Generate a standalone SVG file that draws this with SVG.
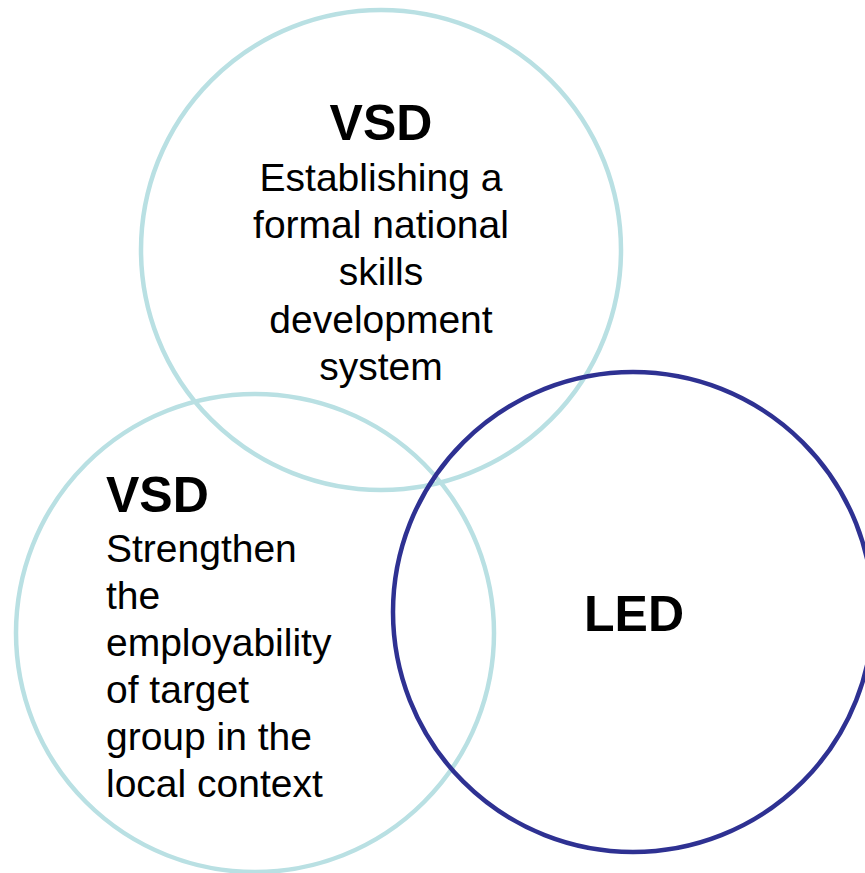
<svg xmlns="http://www.w3.org/2000/svg" width="865" height="873" viewBox="0 0 865 873">
<style>
.c{fill:none;stroke-width:4.5}
.lt{stroke:#b9e0e3}
.dk{stroke:#2e3192}
.h{font-family:"Liberation Sans",Arial,sans-serif;font-weight:bold;font-size:50px;fill:#000}
.t{font-family:"Liberation Sans",Arial,sans-serif;font-size:39px;fill:#000}
</style>
<rect width="865" height="873" fill="#fff"/>
<g id="top">
<circle class="c lt" cx="381" cy="250" r="240"/>
<text class="h" x="381" y="140" text-anchor="middle">VSD</text>
<text class="t" text-anchor="middle"><tspan x="381" y="191">Establishing a</tspan><tspan x="381" y="238">formal national</tspan><tspan x="381" y="285">skills</tspan><tspan x="381" y="333">development</tspan><tspan x="381" y="380">system</tspan></text>
</g>
<g id="left">
<circle class="c lt" cx="255" cy="633" r="239"/>
<text class="h" x="106" y="512">VSD</text>
<text class="t"><tspan x="106" y="562">Strengthen</tspan><tspan x="106" y="609">the</tspan><tspan x="106" y="656">employability</tspan><tspan x="106" y="703">of target</tspan><tspan x="106" y="750">group in the</tspan><tspan x="106" y="797">local context</tspan></text>
</g>
<g id="right">
<circle class="c dk" cx="633" cy="612" r="240"/>
<text class="h" x="634" y="631" text-anchor="middle">LED</text>
</g>
<g id="connectors"/>
</svg>
